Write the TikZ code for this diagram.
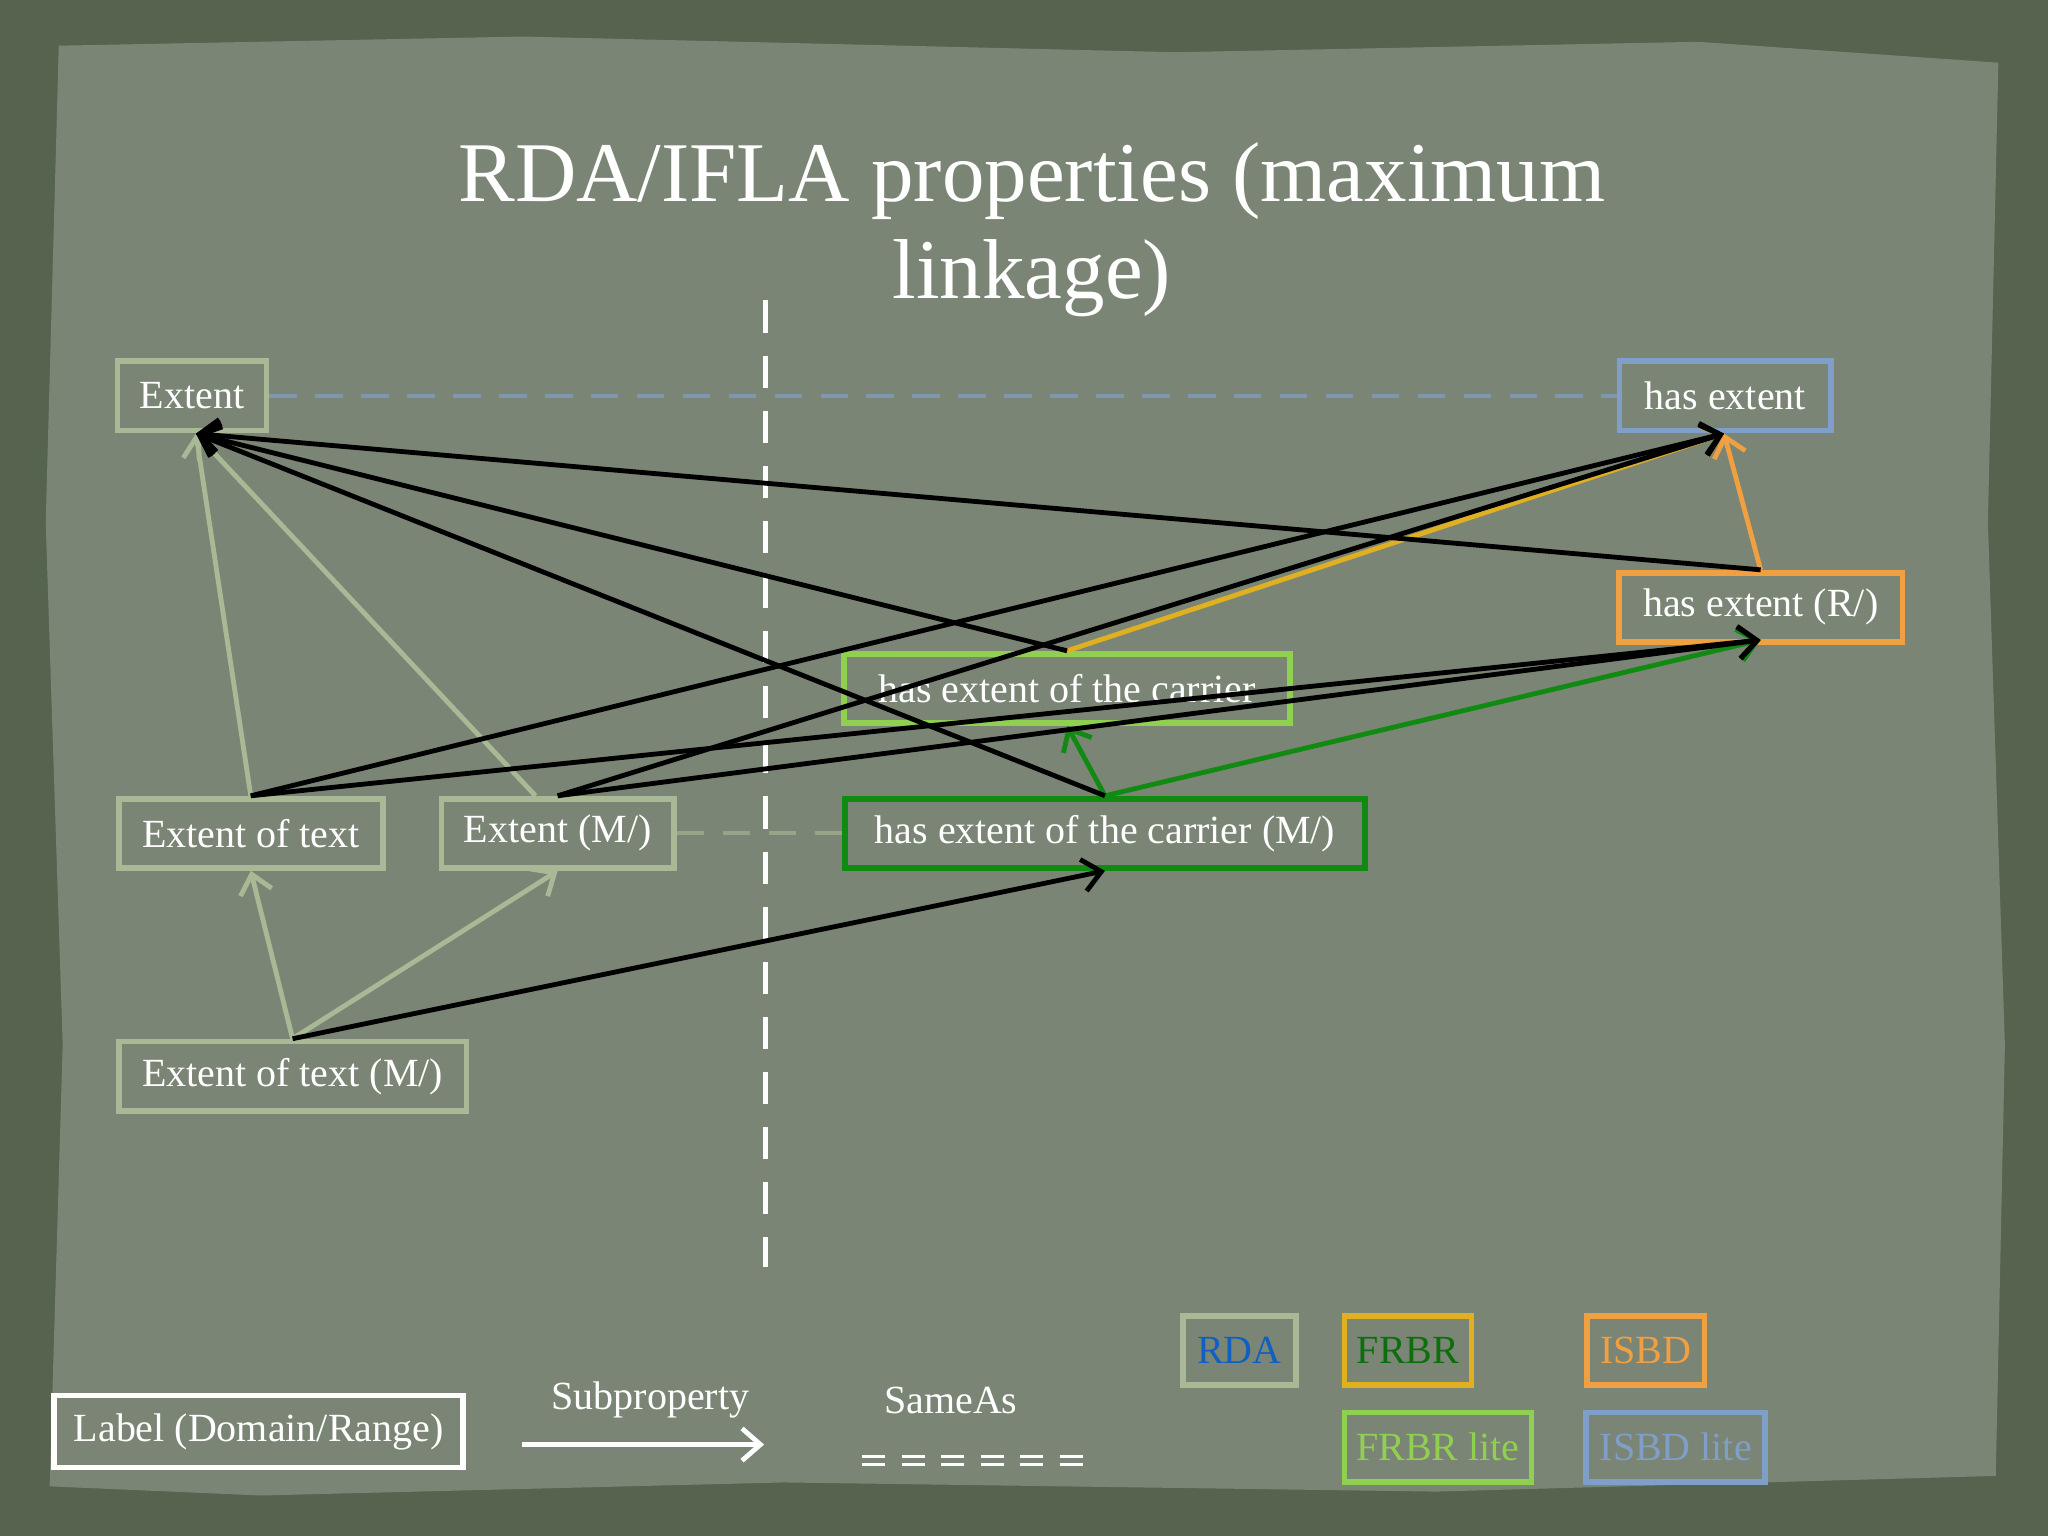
\documentclass[tikz,border=0pt]{standalone}
\usepackage{fontspec}
\setmainfont{Liberation Serif}
\usetikzlibrary{arrows.meta}
\definecolor{bgout}{HTML}{56634E}
\definecolor{paper}{HTML}{7B8575}
\definecolor{sage}{HTML}{A9B995}
\definecolor{isbdlite}{HTML}{7F9FC8}
\definecolor{isbd}{HTML}{F0A040}
\definecolor{frbrlite}{HTML}{90D050}
\definecolor{frbr}{HTML}{E0B020}
\definecolor{dgreen}{HTML}{108A10}
\definecolor{rdablue}{HTML}{1060C0}
\tikzset{
  box/.style={draw=#1, line width=1.25pt, text=white, inner sep=0pt, font=\fontsize{8.7}{10}\selectfont, minimum height=0.53cm},
  arr/.style={draw=#1, line width=1.05pt, -{Straight Barb[length=4pt,width=7pt,line width=1.05pt]}},
}
\begin{document}
\begin{tikzpicture}[x=0.01cm,y=-0.01cm]
\useasboundingbox (0,0) rectangle (1568,1176);
\fill[bgout] (0,0) rectangle (1568,1176);
\fill[paper] (45,35) -- (400,28) -- (900,40) -- (1300,32) -- (1530,48) -- (1522,400) -- (1535,800) -- (1528,1130) -- (1100,1142) -- (600,1135) -- (200,1145) -- (38,1138) -- (48,800) -- (35,400) -- cycle;
% title
\node[text=white, font=\fontsize{18.5}{21}\selectfont, align=center] (title) at (790,176) {RDA/IFLA properties (maximum\\linkage)};
% vertical dashed
\coordinate (vt) at (586,230); \coordinate (vb) at (586,970);
\draw[white, line width=1.1pt, dash pattern=on 7pt off 5pt] (vt) -- (vb);
% nodes
\node[box=sage, minimum width=1.14cm] (ext) at (147,303) {Extent};
\node[box=isbdlite, minimum width=1.62cm] (hext) at (1321,303) {has extent};
\node[box=isbd, minimum width=2.17cm] (hextr) at (1348,465) {has extent (R/)};
\node[box=frbrlite, minimum width=3.41cm] (hcar) at (817,527) {has extent of the carrier};
\node[box=dgreen, minimum width=3.98cm] (hcarm) at (846,638) {has extent of the carrier (M/)};
\node[box=sage, minimum width=2.02cm] (etext) at (192,638) {Extent of text};
\node[box=sage, minimum width=1.78cm] (extm) at (427,638) {Extent (M/)};
\node[box=sage, minimum width=2.66cm] (etextm) at (224,824) {Extent of text (M/)};
% sameAs dashed
\draw[isbdlite!70!paper, line width=0.8pt, dash pattern=on 6pt off 4pt] (ext.east) -- (hext.west);
\draw[sage!60!paper, line width=0.8pt, dash pattern=on 6pt off 4pt] (extm.east) -- (hcarm.west);
% sage subproperty arrows
\coordinate (extA) at (150,332);
\draw[arr=sage] (etext.north) -- (extA);
\draw[arr=sage] ([xshift=-0.17cm]extm.north) -- (extA);
\draw[arr=sage] (etextm.north) -- (etext.south);
\draw[arr=sage] (etextm.north) -- (extm.south);
% orange, yellow, green
\coordinate (hextA) at (1320,332);
\coordinate (hextrA) at (1348,490);
\draw[arr=isbd] (hextr.north) -- (hextA);
\draw[arr=frbr] (hcar.north) -- (hextA);
\draw[arr=dgreen] (hcarm.north) -- (hcar.south);
\draw[arr=dgreen] (hcarm.north) -- (hextrA);
% black arrows
\draw[arr=black] (hextr.north) -- (extA);
\draw[arr=black] (hcar.north) -- (extA);
\draw[arr=black] (hcarm.north) -- (extA);
\draw[arr=black] (etext.north) -- (hextA);
\draw[arr=black] (extm.north) -- (hextA);
\draw[arr=black] (etext.north) -- (hextrA);
\draw[arr=black] (extm.north) -- (hextrA);
\draw[arr=black] (etextm.north) -- (hcarm.south);
% legend
\node[box=white, minimum width=3.13cm, minimum height=0.55cm] (lab) at (198,1096) {Label (Domain/Range)};
\node[text=white, font=\fontsize{8.7}{10}\selectfont] (subp) at (498,1072) {Subproperty};
\coordinate (sa) at (400,1106); \coordinate (sb) at (585,1106);
\draw[arr=white] (sa) -- (sb);
\node[text=white, font=\fontsize{8.7}{10}\selectfont] (same) at (728,1072) {SameAs};
\coordinate (da) at (660,1115); \coordinate (db) at (830,1115);
\coordinate (dc) at (660,1121); \coordinate (dd) at (830,1121);
\draw[white, line width=0.7pt, dash pattern=on 5pt off 3.6pt] (da) -- (db);
\draw[white, line width=0.7pt, dash pattern=on 5pt off 3.6pt] (dc) -- (dd);
\node[box=sage, text=rdablue, minimum width=0.87cm] (rda) at (949,1034) {RDA};
\node[box=frbr, text=dgreen!80!black, minimum width=0.97cm] (frbrn) at (1078,1034) {FRBR};
\node[box=isbd, text=isbd, minimum width=0.90cm] (isbdn) at (1260,1034) {ISBD};
\node[box=frbrlite, text=frbrlite, minimum width=1.43cm] (frbrl) at (1101,1108) {FRBR lite};
\node[box=isbdlite, text=isbdlite, minimum width=1.37cm] (isbdl) at (1283,1108) {ISBD lite};
\end{tikzpicture}
\end{document}
